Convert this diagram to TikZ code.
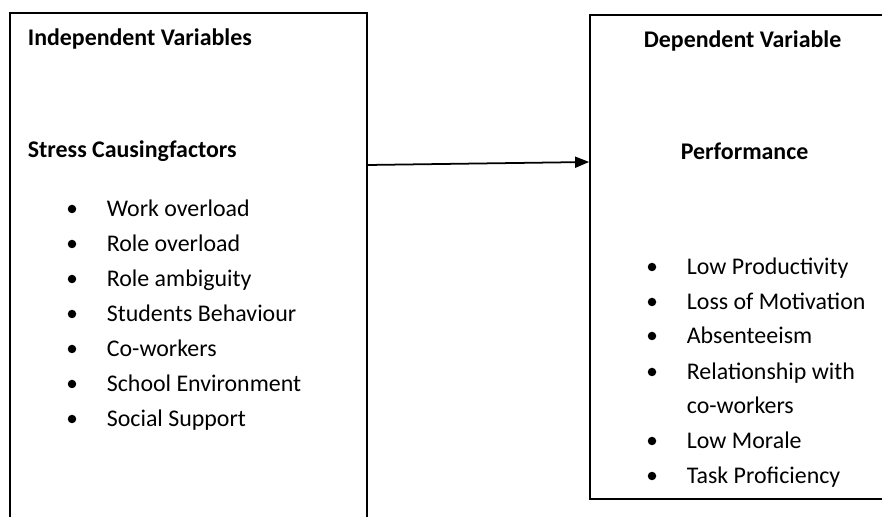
\documentclass[tikz,border=0pt]{standalone}
\usepackage{fontspec}
\setmainfont{Carlito}
\usetikzlibrary{arrows.meta}

\begin{document}
\begin{tikzpicture}[draw=black, line width=1pt]
    \tikzstyle{box}=[draw, rectangle, inner sep=0pt]
    \tikzstyle{head}=[anchor=base west, inner sep=0pt, font=\fontsize{13.6}{16}\selectfont\bfseries]
    \tikzstyle{item}=[anchor=base west, inner sep=0pt, font=\fontsize{13.6}{16}\selectfont]
    \tikzstyle{bul}=[circle, fill=black, minimum size=0.17cm, inner sep=0pt];

\useasboundingbox (0,0) rectangle (17.64,10.34);

% the two boxes
\node[box, minimum width=7.14cm, minimum height=11.08cm] (indep) at (3.77,4.54) {};
\node[box, minimum width=6.0cm, minimum height=9.68cm] (dep) at (14.80,5.20) {};

\node[head] (ivar) at (0.54,9.43) {Independent Variables};
\node[head] (dvar) at (12.86,9.39) {Dependent Variable};
\node[head] (stress) at (0.54,7.19) {Stress Causingfactors};
\node[head] (perf) at (13.60,7.15) {Performance};

% left list
\foreach \txt [count=\i] in {Work overload, Role overload, Role ambiguity,
    Students Behaviour, Co-workers, School Environment, Social Support}{
\node[item] (l\i) at (2.12,{6.01-0.70*(\i-1)}) {\txt};
\node[bul] (lb\i) at (1.44,{6.16-0.70*(\i-1)}) {};
};

% right list
\node[item] (r1) at (13.72,4.85) {Low Productivity};
\node[item] (r2) at (13.72,4.15) {Loss of Motivation};
\node[item] (r3) at (13.72,3.47) {Absenteeism};
\node[item] (r4) at (13.72,2.75) {Relationship with};
\node[item] (r4b) at (13.72,2.07) {co-workers};
\node[item] (r5) at (13.72,1.37) {Low Morale};
\node[item] (r6) at (13.72,0.67) {Task Proficiency};
\foreach \y [count=\i] in {4.85,4.15,3.47,2.75,1.37,0.67}{
\node[bul] (rb\i) at (13.04,\y+0.15) {};
};

\draw[-{Triangle[length=0.28cm,width=0.22cm]}, line width=1pt]
    ([yshift=2.5cm]indep.east) -- ([yshift=1.9cm]dep.west);
\end{tikzpicture}
\end{document}
